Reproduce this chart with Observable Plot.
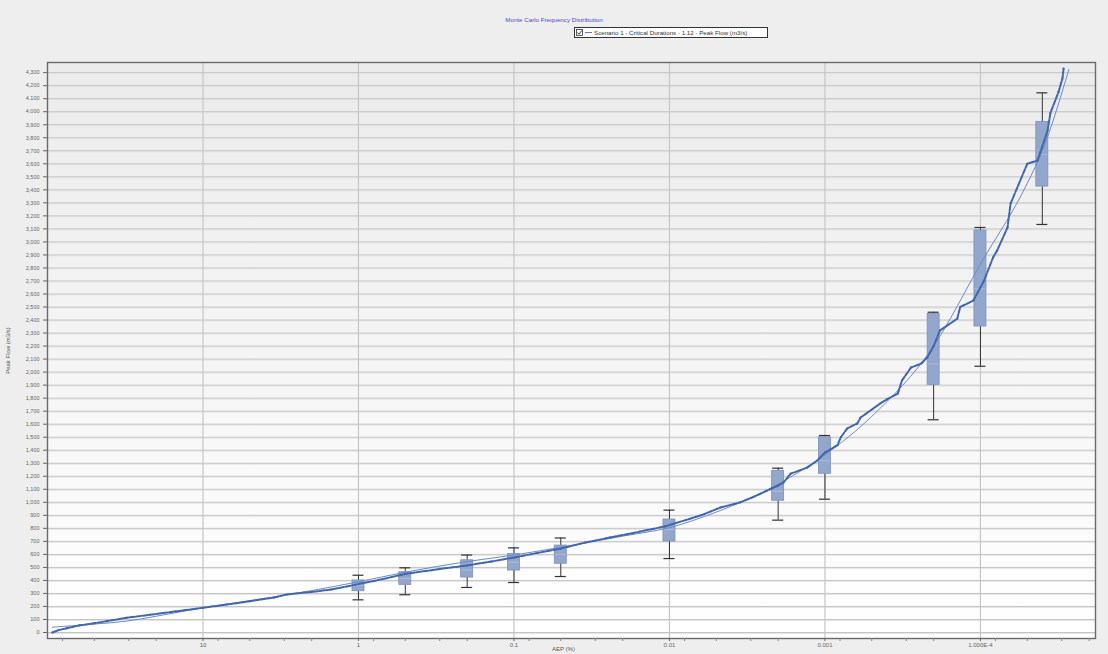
<!DOCTYPE html>
<html>
<head>
<meta charset="utf-8">
<script src="https://cdn.jsdelivr.net/npm/d3@7"></script>
<script src="https://cdn.jsdelivr.net/npm/@observablehq/plot@0.6"></script>
<style>
  body { margin: 0; background: #eeeeee; font-family: "Liberation Sans", Arial, sans-serif; }
  #wrap { position: relative; width: 1108px; height: 654px; overflow: hidden; }
  #head { position: relative; height: 40px; }
  #title { position: absolute; left: 0; width: 1108px; top: 16px; text-align: center; font-size: 6.2px; color: #4a4ad0; }
  #legend { position: absolute; left: 574px; top: 27px; width: 192px; height: 9px; border: 1px solid #333; background: #fff;
            font-size: 6.2px; color: #333; line-height: 9px; white-space: nowrap; }
  #legend svg { position: absolute; left: 1px; top: 1px; }
  #legend span { position: absolute; left: 19px; top: 0; }
</style>
</head>
<body>
<div id="wrap">
  <div id="head">
    <div id="title">Monte Carlo Frequency Distribution</div>
    <div id="legend">
      <svg width="18" height="7">
        <rect x="0.5" y="0.5" width="6" height="6" fill="#fff" stroke="#333" stroke-width="0.8"></rect>
        <path d="M1.5,3.5 L3,5.2 L5.8,1.5" fill="none" stroke="#222" stroke-width="0.9"></path>
        <line x1="9" y1="3.5" x2="16" y2="3.5" stroke="#4a6db5" stroke-width="0.9"></line>
      </svg>
      <span>Scenario 1 - Critical Durations - 1.12 - Peak Flow (m3/s)</span>
    </div>
  </div>
  <div id="chart"></div>
</div>
<script>
// Monte Carlo results (AEP %, peak flow m3/s)
const mcAEP  = [93, 85, 75, 62, 50, 41.6, 31, 22, 15, 10, 7, 5, 3.5, 2.9, 2, 1.5, 1, 0.7, 0.5, 0.3, 0.2, 0.14, 0.1, 0.07, 0.05, 0.035, 0.024, 0.0155, 0.0107, 0.0063, 0.0047, 0.0035, 0.0029, 0.0022, 0.002, 0.00185, 0.00166, 0.0013, 0.00112, 0.001, 0.00083, 0.00079, 0.00072, 0.00062, 0.00059, 0.00044, 0.0004, 0.00034, 0.00032, 0.00028, 0.00024, 0.00022, 0.0002, 0.000182, 0.000141, 0.000135, 0.000111, 0.000095, 0.000083, 0.000078, 0.000067, 0.000064, 0.00005, 0.000043, 0.000037, 0.0000355, 0.0000315, 0.0000297, 0.0000292];
const mcFlow = [0, 18, 33, 55, 72, 87, 113, 136, 162, 190, 215, 240, 268, 292, 312, 330, 372, 410, 450, 488, 515, 545, 576, 612, 645, 690, 730, 775, 815, 899, 960, 1000, 1040, 1106, 1129, 1152, 1220, 1267, 1321, 1382, 1440, 1500, 1567, 1605, 1651, 1760, 1790, 1835, 1935, 2035, 2066, 2112, 2200, 2320, 2410, 2500, 2550, 2700, 2880, 2935, 3110, 3295, 3600, 3625, 3855, 3990, 4150, 4255, 4332];

// Fitted frequency curve
const fitAEP  = [93, 50, 31, 20, 10, 5, 2, 1, 0.5, 0.2, 0.1, 0.05, 0.02, 0.01, 0.005, 0.002, 0.001, 0.0005, 0.0002, 0.0001, 0.00005, 0.00004, 0.000027];
const fitFlow = [41, 65, 87, 125, 190, 245, 322, 390, 463, 545, 595, 655, 740, 806, 925, 1140, 1365, 1660, 2200, 2830, 3450, 3700, 4324];

// Box plots at selected AEPs
const boxAEP = [1, 0.5, 0.2, 0.1, 0.05, 0.01, 0.002, 0.001, 0.0002, 0.0001, 0.00004];
const boxLo  = [251, 290, 346, 384, 430, 568, 863, 1024, 1634, 2045, 3134];
const boxQ1  = [317, 366, 422, 476, 528, 699, 1012, 1219, 1902, 2350, 3425];
const boxMed = [360, 415, 480, 540, 600, 790, 1085, 1320, 2063, 2640, 3671];
const boxQ3  = [400, 463, 555, 603, 668, 868, 1242, 1500, 2447, 3088, 3922];
const boxHi  = [440, 497, 595, 650, 726, 940, 1262, 1513, 2460, 3111, 4145];

// Axis ticks
const yTicks = d3.range(0, 4301, 100);
const xTickValues = [10, 1, 0.1, 0.01, 0.001, 0.0001];
const xTickLabels = ["10", "1", "0.1", "0.01", "0.001", "1.000E-4"];
const xMinorFactors = [0.8, 0.5, 0.3, 0.2];
const xDecades = [100, 10, 1, 0.1, 0.01, 0.001, 0.0001];

const mc = mcAEP.map((a, i) => ({aep: a, flow: mcFlow[i]}));
const fit = fitAEP.map((a, i) => ({aep: a, flow: fitFlow[i]}));
const boxes = boxAEP.map((a, i) => ({aep: a, lo: boxLo[i], q1: boxQ1[i], med: boxMed[i], q3: boxQ3[i], hi: boxHi[i]}));
const xLabelMap = new Map(xTickValues.map((v, i) => [v, xTickLabels[i]]));
const xMinor = xDecades.flatMap(d => xMinorFactors.map(f => d * f)).filter(v => v > 1.82e-5);

const defs = () => {
  const s = d3.create("svg:defs");
  const g = s.append("linearGradient").attr("id", "bgGrad").attr("x1", 0).attr("y1", 0).attr("x2", 0).attr("y2", 1);
  g.append("stop").attr("offset", "0%").attr("stop-color", "#ebebeb");
  g.append("stop").attr("offset", "100%").attr("stop-color", "#ffffff");
  return s.node();
};

const chart = Plot.plot({
  width: 1108,
  height: 614,
  marginLeft: 47,
  marginRight: 13,
  marginTop: 22,
  marginBottom: 16,
  style: {background: "transparent", fontFamily: "Liberation Sans, Arial, sans-serif"},
  x: {type: "log", domain: [100, 1.82e-5]},
  y: {domain: [-46, 4378]},
  marks: [
    defs,
    Plot.frame({fill: "url(#bgGrad)"}),
    Plot.ruleY(yTicks, {stroke: "#e6e6e6", dy: 1}),
    Plot.ruleY(yTicks, {stroke: "#c4c4c4"}),
    Plot.ruleX(xTickValues, {stroke: "#c6c6c6", strokeWidth: 1.2}),
    // whiskers
    Plot.ruleX(boxes, {x: "aep", y1: "lo", y2: "q1", stroke: "#333", strokeWidth: 1}),
    Plot.ruleX(boxes, {x: "aep", y1: "q3", y2: "hi", stroke: "#333", strokeWidth: 1}),
    Plot.ruleY(boxes, {y: "lo", x1: "aep", x2: "aep", insetLeft: -5.5, insetRight: -5.5, stroke: "#333", strokeWidth: 1.2}),
    Plot.ruleY(boxes, {y: "hi", x1: "aep", x2: "aep", insetLeft: -5.5, insetRight: -5.5, stroke: "#333", strokeWidth: 1.2}),
    // boxes
    Plot.rect(boxes, {x1: "aep", x2: "aep", y1: "q1", y2: "q3", insetLeft: -6, insetRight: -6, fill: "#93a7cd", stroke: "#7990bd", strokeWidth: 0.8}),
    Plot.ruleY(boxes, {y: "med", x1: "aep", x2: "aep", insetLeft: -5.5, insetRight: -5.5, stroke: "#b3c1dc", strokeWidth: 0.8}),
    // fitted curve
    Plot.line(fit, {x: "aep", y: "flow", stroke: "#6a8cc8", strokeWidth: 1, curve: "monotone-x"}),
    // Monte Carlo data
    Plot.line(mc, {x: "aep", y: "flow", stroke: "#4166ae", strokeWidth: 2, strokeDasharray: "5,1.6", curve: "linear"}),
    Plot.dot(mc, {x: "aep", y: "flow", r: 1.1, fill: "#4166ae", stroke: "none"}),
    Plot.frame({stroke: "#6a6a6a", strokeWidth: 1.4}),
    Plot.axisY(yTicks, {tickSize: 4, tickPadding: 4, fontSize: 5.5, tickFormat: d3.format(","), label: null, color: "#666"}),
    Plot.axisX(xTickValues, {tickSize: 3, tickPadding: 1.5, fontSize: 6, tickFormat: d => xLabelMap.get(d), label: null, color: "#666"}),
    Plot.axisX(xMinor, {tickSize: 3, tickFormat: () => "", label: null, color: "#888"}),
    Plot.text(["AEP (%)"], {frameAnchor: "bottom", dy: 12, dx: -8, fontSize: 6, fill: "#555"}),
    Plot.text(["Peak Flow (m3/s)"], {frameAnchor: "left", textAnchor: "middle", rotate: -90, dx: -39, fontSize: 6, fill: "#555"})
  ]
});
document.getElementById("chart").appendChild(chart);
</script>
</body>
</html>
